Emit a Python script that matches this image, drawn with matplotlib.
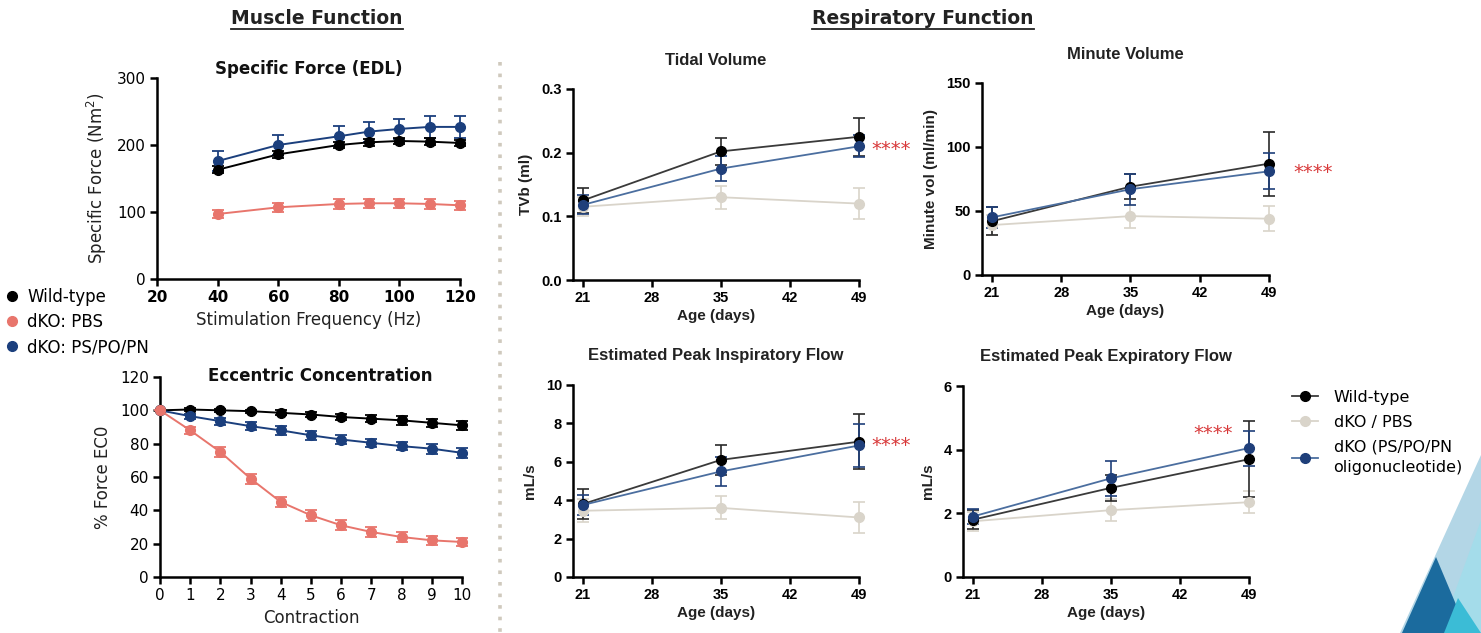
import matplotlib
matplotlib.use("Agg")
import matplotlib.pyplot as plt
from matplotlib.lines import Line2D
from matplotlib.patches import Polygon
import numpy as np

W, H = 1481, 633
fig = plt.figure(figsize=(W / 100, H / 100), dpi=100)
fig.patch.set_facecolor("white")

# ---------------- data ----------------
freq = [40, 60, 80, 90, 100, 110, 120]
sf_wt = [163, 186, 200, 204, 206, 205, 203]
sf_wt_err = [5, 5, 5, 5, 5, 5, 5]
sf_pbs = [97, 107, 112, 113, 113, 112, 110]
sf_pbs_err = [6, 7, 7, 7, 7, 7, 7]
sf_ps = [176, 200, 213, 220, 224, 227, 227]
sf_ps_err = [15, 15, 15, 15, 15, 16, 17]

contraction = [0, 1, 2, 3, 4, 5, 6, 7, 8, 9, 10]
ec_wt = [100, 100.5, 100, 99.5, 98.5, 97.5, 96, 95, 94, 92.5, 91]
ec_wt_err = [0, 1, 1, 1, 1.5, 1.5, 2, 2, 2.5, 2.5, 2.5]
ec_pbs = [100, 88, 75, 59, 45, 37, 31, 27, 24, 22, 21]
ec_pbs_err = [0, 2, 3, 3, 3, 3.5, 3, 3, 3, 2.5, 2.5]
ec_ps = [100, 96.5, 93.5, 90.5, 88, 85, 82.5, 80.5, 78.5, 77, 74.5]
ec_ps_err = [0, 1.5, 2, 2.5, 2.5, 2.5, 2.5, 2.5, 2.5, 3, 3]

age = [21, 35, 49]
age_ticks = [21, 28, 35, 42, 49]

tv_wt = [0.125, 0.202, 0.225]
tv_wt_err = [0.02, 0.021, 0.03]
tv_pbs = [0.115, 0.130, 0.120]
tv_pbs_err = [0.015, 0.018, 0.024]
tv_ps = [0.118, 0.175, 0.210]
tv_ps_err = [0.015, 0.02, 0.017]

mv_wt = [42, 69, 87]
mv_wt_err = [11, 10, 25]
mv_pbs = [39, 46, 44]
mv_pbs_err = [8, 9, 10]
mv_ps = [45, 67, 81]
mv_ps_err = [8, 12, 14]

pif_wt = [3.8, 6.1, 7.05]
pif_wt_err = [0.8, 0.8, 1.45]
pif_pbs = [3.45, 3.6, 3.1]
pif_pbs_err = [0.6, 0.6, 0.8]
pif_ps = [3.75, 5.5, 6.85]
pif_ps_err = [0.5, 0.75, 1.1]

pef_wt = [1.8, 2.8, 3.7]
pef_wt_err = [0.3, 0.4, 1.2]
pef_pbs = [1.75, 2.1, 2.35]
pef_pbs_err = [0.3, 0.35, 0.35]
pef_ps = [1.9, 3.1, 4.05]
pef_ps_err = [0.25, 0.55, 0.55]

left_labels = ["Wild-type", "dKO: PBS", "dKO: PS/PO/PN"]
right_labels = ["Wild-type", "dKO / PBS", "dKO (PS/PO/PN\noligonucleotide)"]

# ---------------- styles ----------------
C_WT = "#000000"
C_PBS_L = "#e8756c"
C_PS_L = "#1b3f7d"
C_WT_R_LINE = "#3a3a3a"
C_PBS_R = "#d9d4ca"
C_PS_R = "#1f3f7a"
C_PS_R_LINE = "#4b6e9f"
STAR = "#d8393a"

VER = "DejaVu Sans"
ARI = "Liberation Sans"


def ax_px(l, t, r, b):
    return fig.add_axes([l / W, 1 - b / H, (r - l) / W, (b - t) / H])


def style_axes(ax, font, tick_size, lw=1.8):
    for s in ["top", "right"]:
        ax.spines[s].set_visible(False)
    for s in ["left", "bottom"]:
        ax.spines[s].set_linewidth(lw)
    ax.tick_params(direction="out", length=5, width=lw, labelsize=tick_size, pad=3)
    for lab in ax.get_xticklabels() + ax.get_yticklabels():
        lab.set_fontfamily(font)


def series_left(ax, x, y, e, c):
    ax.errorbar(x, y, yerr=e, color=c, ecolor=c, elinewidth=1.3, capsize=4,
                capthick=1.3, marker="o", markersize=7, lw=1.4, clip_on=False, zorder=3)


# ---------------- Muscle: Specific force ----------------
ax1 = ax_px(157, 78, 460, 279)
series_left(ax1, freq, sf_ps, sf_ps_err, C_PS_L)
series_left(ax1, freq, sf_wt, sf_wt_err, C_WT)
series_left(ax1, freq, sf_pbs, sf_pbs_err, C_PBS_L)
ax1.set_xlim(20, 120)
ax1.set_ylim(0, 300)
ax1.set_xticks([20, 40, 60, 80, 100, 120])
ax1.set_yticks([0, 100, 200, 300])
style_axes(ax1, VER, 11)
for lab in ax1.get_xticklabels():
    lab.set_fontweight("bold")
ax1.set_xlabel("Stimulation Frequency (Hz)", fontsize=12, family=VER, color="#222", labelpad=4)
ax1.set_ylabel("Specific Force (Nm$^2$)", fontsize=12, family=VER, color="#222", labelpad=6)
ax1.set_title("Specific Force (EDL)", fontsize=12, fontweight="bold", family=VER, pad=1, color="#111")

# ---------------- Muscle: Eccentric ----------------
ax2 = ax_px(160, 377, 462, 577)
series_left(ax2, contraction, ec_wt, ec_wt_err, C_WT)
series_left(ax2, contraction, ec_ps, ec_ps_err, C_PS_L)
series_left(ax2, contraction, ec_pbs, ec_pbs_err, C_PBS_L)
ax2.set_xlim(0, 10)
ax2.set_ylim(0, 120)
ax2.set_xticks(contraction)
ax2.set_yticks([0, 20, 40, 60, 80, 100, 120])
style_axes(ax2, VER, 11)
ax2.set_xlabel("Contraction", fontsize=12, family=VER, color="#222", labelpad=4)
ax2.set_ylabel("% Force EC0", fontsize=12, family=VER, color="#222", labelpad=6)
ax2.text(0.53, 1.05, "Eccentric Concentration", transform=ax2.transAxes, ha="center",
         va="top", fontsize=12, fontweight="bold", family=VER, color="#111")


# ---------------- Respiratory ----------------
def series_right(ax, x, y, e, c, ec, lc, ms=7):
    ax.errorbar(x, y, yerr=e, color=lc, ecolor=ec, elinewidth=1.2, capsize=4,
                capthick=1.2, marker="o", markersize=ms, markerfacecolor=c,
                markeredgecolor=c, lw=1.3, clip_on=False, zorder=3)


def resp_panel(rect, wt, wte, pbs, pbse, ps, pse, ylim, yticks, ylab, title, ytfmt=None, title_pad=14):
    ax = ax_px(*rect)
    series_right(ax, age, pbs, pbse, C_PBS_R, C_PBS_R, C_PBS_R)
    series_right(ax, age, wt, wte, C_WT, "#2a2a2a", C_WT_R_LINE)
    series_right(ax, age, ps, pse, C_PS_R, C_PS_R, C_PS_R_LINE)
    ax.set_xlim(20, 49)
    ax.set_ylim(*ylim)
    ax.set_xticks(age_ticks)
    ax.set_yticks(yticks)
    if ytfmt:
        ax.set_yticklabels([ytfmt.format(v) for v in yticks])
    style_axes(ax, ARI, 10.5)
    for lab in ax.get_xticklabels() + ax.get_yticklabels():
        lab.set_fontweight("bold")
    ax.set_xlabel("Age (days)", fontsize=11, family=ARI, fontweight="bold", color="#222", labelpad=3)
    ax.set_ylabel(ylab, fontsize=11, family=ARI, fontweight="bold", color="#222", labelpad=6)
    ax.set_title(title, fontsize=12, family=ARI, fontweight="bold", color="#222", pad=title_pad)
    return ax


ax3 = resp_panel((573, 89, 859, 280), tv_wt, tv_wt_err, tv_pbs, tv_pbs_err, tv_ps, tv_ps_err,
                 (0, 0.3), [0.0, 0.1, 0.2, 0.3], "TVb (ml)", "Tidal Volume", "{:.1f}", title_pad=17)
ax4 = resp_panel((982, 83, 1269, 275), mv_wt, mv_wt_err, mv_pbs, mv_pbs_err, mv_ps, mv_ps_err,
                 (0, 150), [0, 50, 100, 150], "Minute vol (ml/min)", "Minute Volume", title_pad=17)
ax5 = resp_panel((573, 385, 859, 577), pif_wt, pif_wt_err, pif_pbs, pif_pbs_err, pif_ps, pif_ps_err,
                 (0, 10), [0, 2, 4, 6, 8, 10], "mL/s", "Estimated Peak Inspiratory Flow", title_pad=18)
ax6 = resp_panel((963, 386, 1249, 577), pef_wt, pef_wt_err, pef_pbs, pef_pbs_err, pef_ps, pef_ps_err,
                 (0, 6), [0, 2, 4, 6], "mL/s", "Estimated Peak Expiratory Flow", title_pad=18)

# significance stars
for (x, y) in [(891, 150), (1313, 172), (891, 446), (1213, 434)]:
    fig.text(x / W, 1 - y / H, "****", color=STAR, fontsize=14, family=VER,
             ha="center", va="center")

# ---------------- section headers ----------------
hdrs = []
for (x, txt) in [(317, "Muscle Function"), (923, "Respiratory Function")]:
    t = fig.text(x / W, 1 - 18 / H, txt, fontsize=13.5, fontweight="bold", family=VER,
                 ha="center", va="center", color="#222")
    hdrs.append(t)
fig.canvas.draw()
r = fig.canvas.get_renderer()
for t in hdrs:
    bb = t.get_window_extent(r)
    yy = bb.y0 - 1
    fig.add_artist(Line2D([bb.x0 / W, bb.x1 / W], [yy / H, yy / H], color="#222", lw=1.3))

# dotted separator
fig.add_artist(Line2D([500 / W, 500 / W], [1 - 62 / H, 0], color="#cfc9bd", lw=2.6,
                      linestyle=(0, (1, 2.2))))

# ---------------- legends ----------------
lh = [Line2D([], [], marker="o", color=c, linestyle="none", markersize=7)
      for c in [C_WT, C_PBS_L, C_PS_L]]
fig.legend(lh, left_labels, loc="upper left", bbox_to_anchor=(7 / W, 1 - 288 / H),
           frameon=False, handlelength=0.6, handletextpad=0.6, labelspacing=0.42,
           prop={"family": VER, "size": 12}, borderaxespad=0, borderpad=0)

rh = [Line2D([], [], marker="o", color=lc, markerfacecolor=c, markeredgecolor=c, markersize=7, lw=1.3)
      for c, lc in [(C_WT, C_WT_R_LINE), (C_PBS_R, C_PBS_R), (C_PS_R, C_PS_R_LINE)]]
leg = fig.legend(rh, right_labels, loc="upper left", bbox_to_anchor=(1292 / W, 1 - 390 / H),
                 frameon=False, handlelength=1.6, handletextpad=1.0, labelspacing=0.62,
                 prop={"family": VER, "size": 11.5}, borderaxespad=0, borderpad=0)
for t in leg.get_texts():
    t.set_linespacing(1.45)

# ---------------- decorative triangles ----------------
def poly(pts, c):
    fig.add_artist(Polygon([(x / W, 1 - y / H) for x, y in pts], closed=True,
                           facecolor=c, edgecolor="none", zorder=0))

poly([(1481, 455), (1400, 633), (1481, 633)], "#b3d6e6")
poly([(1481, 520), (1440, 633), (1481, 633)], "#a4dcea")
poly([(1436, 557), (1402, 633), (1468, 633)], "#1b6b9e")
poly([(1458, 598), (1444, 633), (1481, 633)], "#3bbcd6")

fig.savefig("out.png", dpi=100, facecolor="white")
